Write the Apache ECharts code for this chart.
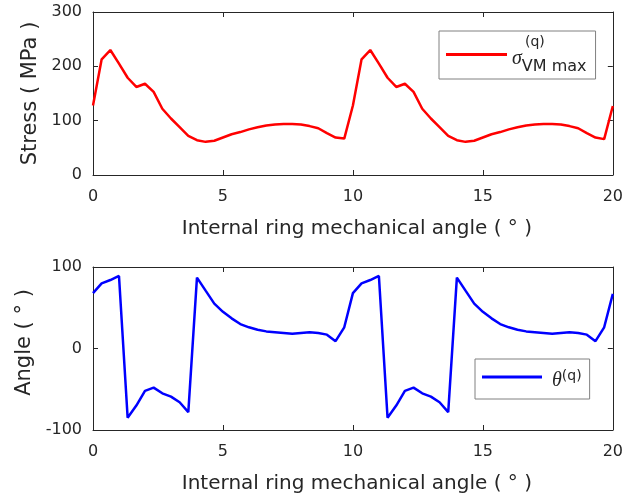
<!DOCTYPE html>
<html>
<head>
<meta charset="utf-8">
<script src="https://cdn.jsdelivr.net/npm/echarts@6/dist/echarts.min.js"></script>
<style>html,body{margin:0;padding:0;background:#fff}#c{width:626px;height:497px}</style>
</head>
<body>
<div id="c"></div>
<script>
// Internal ring mechanical angle (degrees)
var angles = [0,0.333,0.667,1,1.333,1.667,2,2.333,2.667,3,3.333,3.667,4,4.333,4.667,5,5.333,5.667,6,6.333,6.667,7,7.333,7.667,8,8.333,8.667,9,9.333,9.667,
  10,10.333,10.667,11,11.333,11.667,12,12.333,12.667,13,13.333,13.667,14,14.333,14.667,15,15.333,15.667,16,16.333,16.667,17,17.333,17.667,18,18.333,18.667,19,19.333,19.667,20];
// Max von Mises stress (MPa)
var stress = [128,213,230,205,179,162,168,153,122,104,88,72,64,61,63,69,75,79,84,88,91,93,94,94,93,90,86,77,69,67,
  128,213,230,205,179,162,168,153,122,104,88,72,64,61,63,69,75,79,84,88,91,93,94,94,93,90,86,77,69,66,127];
// Angle theta (degrees)
var theta = [68,80,84,89,-85,-70,-52,-48,-55,-59,-66,-78,87,71,55,45,37,30,26,23,21,20,19,18,19,20,19,17,9,26,
  68,80,84,89,-85,-70,-52,-48,-55,-59,-66,-78,87,71,55,45,37,30,26,23,21,20,19,18,19,20,19,17,9,26,67];
var xTicks = [0,5,10,15,20];
var stressTicks = [0,100,200,300];
var thetaTicks = [-100,0,100];

var FONT = 'DejaVu Sans';
var TXT = '#262626';
function pairs(xs, ys){ return xs.map(function(x,i){ return [x, ys[i]]; }); }

function xAx(grid, pos, showLabel, name){
  return {
    type:'value', gridIndex:grid, position:pos, min:xTicks[0], max:xTicks[xTicks.length-1],
    interval:xTicks[1]-xTicks[0],
    axisLine:{show:true, onZero:false, lineStyle:{color:TXT, width:1}},
    axisTick:{show:true, inside:true, length:5, lineStyle:{color:TXT}},
    axisLabel:{show:showLabel, margin:14, color:TXT, fontFamily:FONT, fontSize:16},
    splitLine:{show:false},
    name: name || '', nameLocation:'middle', nameGap:44,
    nameTextStyle:{color:TXT, fontFamily:FONT, fontSize:20, padding:[0,0,0,8]}
  };
}
function yAx(grid, pos, ticks, showLabel, name, pad){
  return {
    type:'value', gridIndex:grid, position:pos, min:ticks[0], max:ticks[ticks.length-1],
    interval:ticks[1]-ticks[0],
    axisLine:{show:true, onZero:false, lineStyle:{color:TXT, width:1}},
    axisTick:{show:true, inside:true, length:5, lineStyle:{color:TXT}},
    axisLabel:{show:showLabel, margin:11, color:TXT, fontFamily:FONT, fontSize:16},
    splitLine:{show:false},
    name: name || '', nameLocation:'middle', nameGap:46,
    nameTextStyle:{color:TXT, fontFamily:FONT, fontSize:21, padding:[0,0,0,pad||0]}
  };
}

var chart = echarts.init(document.getElementById('c'));
chart.setOption({
  animation:false,
  backgroundColor:'#fff',
  grid:[
    {left:93, top:12, width:522, height:163},
    {left:93, top:267, width:522, height:163}
  ],
  xAxis:[
    xAx(0,'bottom',true,'Internal ring mechanical angle ( ° )'),
    xAx(0,'top',false),
    xAx(1,'bottom',true,'Internal ring mechanical angle ( ° )'),
    xAx(1,'top',false)
  ],
  yAxis:[
    yAx(0,'left',stressTicks,true,'Stress ( MPa )',0),
    yAx(0,'right',stressTicks,false),
    yAx(1,'left',thetaTicks,true,'Angle ( ° )',12),
    yAx(1,'right',thetaTicks,false)
  ],
  legend:[
    {
      data:['sigma'], left:439, top:31, padding:[1,9,0,7],
      itemWidth:61, itemHeight:3, icon:'rect',
      borderColor:'#808080', borderWidth:1, borderRadius:0, backgroundColor:'#fff',
      formatter:function(){ return '{gap| }{sup|(q)}\n{sig|σ}{sub|VM max}'; },
      textStyle:{color:TXT, fontFamily:FONT, fontSize:16, rich:{
        gap:{width:13, lineHeight:20},
        sup:{fontSize:14, lineHeight:20, height:16, verticalAlign:'bottom', fontFamily:FONT, color:TXT},
        sig:{fontSize:20, lineHeight:18, height:18, verticalAlign:'top', fontStyle:'italic', fontFamily:'Liberation Serif', color:TXT},
        sub:{fontSize:16, lineHeight:29, height:25, verticalAlign:'bottom', fontFamily:FONT, color:TXT}
      }}
    },
    {
      data:['theta'], left:475, top:359, padding:[7,8,8,7],
      itemWidth:60, itemHeight:3, icon:'rect',
      borderColor:'#808080', borderWidth:1, borderRadius:0, backgroundColor:'#fff',
      formatter:function(){ return '{sp| }{th|θ}{sup|(q)}'; },
      textStyle:{color:TXT, fontFamily:FONT, fontSize:16, rich:{
        sp:{width:5, lineHeight:22},
        th:{fontSize:20, lineHeight:16, height:14, verticalAlign:'bottom', fontStyle:'italic', fontFamily:'Liberation Serif', color:TXT},
        sup:{fontSize:14, lineHeight:20, height:20, verticalAlign:'top', fontFamily:FONT, color:TXT}
      }}
    }
  ],
  series:[
    {name:'sigma', type:'line', xAxisIndex:0, yAxisIndex:0, data:pairs(angles,stress),
     showSymbol:false, symbol:'none', lineStyle:{color:'#ff0000', width:2.5}, itemStyle:{color:'#ff0000'}},
    {name:'theta', type:'line', xAxisIndex:2, yAxisIndex:2, data:pairs(angles,theta),
     showSymbol:false, symbol:'none', lineStyle:{color:'#0000ff', width:2.5}, itemStyle:{color:'#0000ff'}}
  ]
});
</script>
</body>
</html>
